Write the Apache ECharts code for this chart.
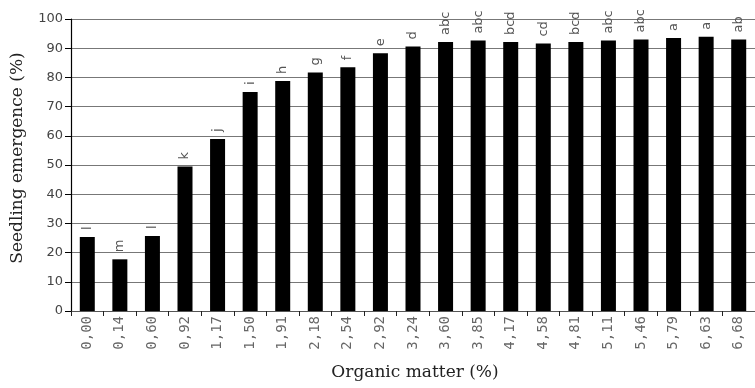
<!DOCTYPE html>
<html>
<head>
<meta charset="utf-8">
<script src="https://cdn.jsdelivr.net/npm/echarts@6/dist/echarts.min.js"></script>
<style>html,body{margin:0;padding:0;background:#fff}#c{width:755px;height:388px}</style>
</head>
<body>
<div id="c"></div>
<script>
const categories = ["0,00","0,14","0,60","0,92","1,17","1,50","1,91","2,18","2,54","2,92","3,24","3,60","3,85","4,17","4,58","4,81","5,11","5,46","5,79","6,63","6,68"];
const emergence = [25.3,17.7,25.7,49.5,58.9,75.0,78.8,81.7,83.5,88.3,90.6,92.1,92.6,92.1,91.6,92.1,92.6,93.0,93.5,93.9,93.0];
const letters = ["l","m","l","k","j","i","h","g","f","e","d","abc","abc","bcd","cd","bcd","abc","abc","a","a","ab"];
const yTicks = {min:0, max:100, interval:10};
const xTitle = "Organic matter (%)";
const yTitle = "Seedling emergence (%)";

const chart = echarts.init(document.getElementById('c'), null, {renderer:'canvas'});
chart.setOption({
  animation:false,
  backgroundColor:'#fff',
  grid:{left:71, top:19, width:689, bottom:77, containLabel:false},
  xAxis:{
    type:'category', data:categories,
    axisLine:{show:true, lineStyle:{color:'#555', width:1}},
    axisTick:{show:true, alignWithLabel:false, length:5, lineStyle:{color:'#222'}},
    axisLabel:{rotate:90, margin:5, fontFamily:'DejaVu Sans Mono', fontSize:14, color:'#666', interval:0}
  },
  yAxis:{
    type:'value', min:yTicks.min, max:yTicks.max, interval:yTicks.interval,
    axisLine:{show:true, lineStyle:{color:'#000', width:1.2}},
    axisTick:{show:true, length:6, lineStyle:{color:'#000'}},
    axisLabel:{margin:8, fontFamily:'DejaVu Sans', fontSize:13, color:'#444'},
    splitLine:{show:true, lineStyle:{color:'#777', width:1}}
  },
  series:[{
    type:'bar', data:emergence, barWidth:15,
    itemStyle:{color:'#000'},
    label:{
      show:true, position:'top', rotate:90, align:'left', verticalAlign:'middle', distance:7,
      fontFamily:'DejaVu Sans', fontSize:13, color:'#555',
      formatter:(p)=>letters[p.dataIndex]
    }
  }],
  graphic:[
    {type:'text', x:415, y:373, style:{text:xTitle, font:'17px "DejaVu Serif"', fill:'#222', textAlign:'center', textVerticalAlign:'middle'}},
    {type:'text', x:18, y:158, rotation:Math.PI/2, style:{text:yTitle, font:'17px "DejaVu Serif"', fill:'#222', textAlign:'center', textVerticalAlign:'middle'}}
  ]
});
</script>
</body>
</html>
